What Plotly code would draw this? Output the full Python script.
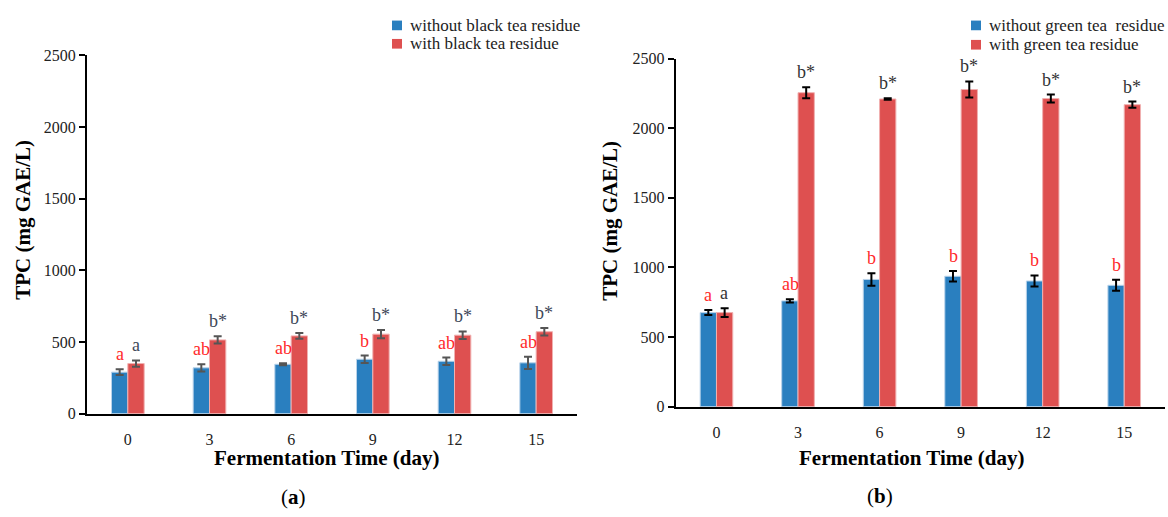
import plotly.graph_objects as go

# Fermentation days (categories)
days = ["0", "3", "6", "9", "12", "15"]

# Panel (a): black tea residue, TPC (mg GAE/L)
black_without = [290, 320, 345, 380, 366, 355]
black_without_err = [20, 25, 7, 26, 26, 43]
black_with = [350, 515, 543, 555, 548, 572]
black_with_err = [22, 25, 20, 29, 26, 26]
black_without_lbl = ["a", "ab", "ab", "b", "ab", "ab"]
black_with_lbl = ["a", "b*", "b*", "b*", "b*", "b*"]

# Panel (b): green tea residue, TPC (mg GAE/L)
green_without = [676, 760, 914, 937, 903, 872]
green_without_err = [18, 12, 45, 38, 40, 39]
green_with = [676, 2255, 2210, 2278, 2213, 2169]
green_with_err = [32, 40, 5, 58, 29, 22]
green_without_lbl = ["a", "ab", "b", "b", "b", "b"]
green_with_lbl = ["a", "b*", "b*", "b*", "b*", "b*"]

y_ticks = [0, 500, 1000, 1500, 2000, 2500]

W, H = 1168, 517
BLUE = "#2A7FBF"
RED = "#DE5050"
LBL_RED = "#FF2A2A"
SERIF = "Liberation Serif, Times New Roman, serif"

fig = go.Figure()


def add_pair(xa, ya, v1, e1, v2, e2, name1, name2, err_color):
    fig.add_trace(go.Bar(
        x=days, y=v1, name=name1, xaxis=xa, yaxis=ya,
        marker=dict(color=BLUE, line=dict(color="#B9D3EA", width=1)),
        error_y=dict(type="data", array=e1, color=err_color, thickness=2, width=4),
    ))
    fig.add_trace(go.Bar(
        x=days, y=v2, name=name2, xaxis=xa, yaxis=ya,
        marker=dict(color=RED, line=dict(color="#F0B0B0", width=1)),
        error_y=dict(type="data", array=e2, color=err_color, thickness=2, width=4),
    ))


add_pair("x", "y", black_without, black_without_err, black_with, black_with_err,
         "without black tea residue", "with black tea residue", "#555555")
add_pair("x2", "y2", green_without, green_without_err, green_with, green_with_err,
         "without green tea  residue", "with green tea residue", "#000000")

annotations = []
shapes = []


def add_letters(xref, yref, vals, errs, lbls, shift, color):
    # category axes take the category index as the annotation position
    for i, (v, e, t) in enumerate(zip(vals, errs, lbls)):
        annotations.append(dict(
            x=i, y=v + e, xref=xref, yref=yref, text=t, showarrow=False,
            xshift=shift, yshift=3, xanchor="center", yanchor="bottom",
            font=dict(family=SERIF, size=18, color=color),
        ))


add_letters("x", "y", black_without, black_without_err, black_without_lbl, -8, LBL_RED)
add_letters("x", "y", black_with, black_with_err, black_with_lbl, 8, "#404858")
add_letters("x2", "y2", green_without, green_without_err, green_without_lbl, -8, LBL_RED)
add_letters("x2", "y2", green_with, green_with_err, green_with_lbl, 8, "#333333")


def px(x, y):
    return x / W, 1 - y / H


# Axis titles and panel tags
title_font = dict(family=SERIF, size=21, color="black")
for text, xp, yp, ang in [
    ("<b>TPC (mg GAE/L)</b>", 23, 219, -90),
    ("<b>TPC (mg GAE/L)</b>", 610, 220, -90),
    ("<b>Fermentation Time (day)</b>", 327, 465, 0),
    ("<b>Fermentation Time (day)</b>", 912, 465, 0),
    ("(<b>a</b>)", 293, 506, 0),
    ("(<b>b</b>)", 880, 505, 0),
]:
    xx, yy = px(xp, yp)
    annotations.append(dict(
        text=text, textangle=ang, xref="paper", yref="paper", x=xx, y=yy,
        xanchor="center", yanchor="middle", showarrow=False, font=title_font,
    ))

# Legend keys: coloured squares with series names beside them
legend_font = dict(family=SERIF, size=17, color="#222222")
for names, sx, tx, rows in [
    (["without black tea residue", "with black tea residue"], 392, 408, [18, 37]),
    (["without green tea&nbsp; residue", "with green tea residue"], 971, 987, [18, 38]),
]:
    for name, color, ry in zip(names, [BLUE, RED], rows):
        x0, y0 = px(sx, ry - 5)
        x1, y1 = px(sx + 10, ry + 5)
        shapes.append(dict(type="rect", xref="paper", yref="paper",
                           x0=x0, x1=x1, y0=y1, y1=y0,
                           fillcolor=color, line=dict(width=0)))
        xx, yy = px(tx, ry)
        annotations.append(dict(
            text=name, xref="paper", yref="paper", x=xx, y=yy,
            xanchor="left", yanchor="middle", showarrow=False, font=legend_font,
        ))

tick_font = dict(family=SERIF, size=16, color="#222222")
xaxis_common = dict(
    type="category", range=[-0.5, 5.5], showline=True, linecolor="black", linewidth=2,
    ticks="", showgrid=False, zeroline=False, tickfont=tick_font, ticklabelstandoff=10,
)
yaxis_common = dict(
    range=[0, 2500], tickvals=y_ticks, showline=True, linecolor="black", linewidth=2,
    ticks="outside", ticklen=6, tickwidth=2, tickcolor="black", showgrid=False,
    zeroline=False, tickfont=tick_font,
)

fig.update_layout(
    width=W, height=H, margin=dict(l=0, r=0, t=0, b=0),
    paper_bgcolor="white", plot_bgcolor="white",
    barmode="group", bargap=0.6, bargroupgap=0,
    xaxis=dict(domain=[87 / W, 577 / W], anchor="y", **xaxis_common),
    yaxis=dict(domain=[1 - 419.5 / H, 1 - 49 / H], anchor="x", **yaxis_common),
    xaxis2=dict(domain=[675.7 / W, 1165 / W], anchor="y2", **xaxis_common),
    yaxis2=dict(domain=[1 - 412.3 / H, 1 - 52.3 / H], anchor="x2", **yaxis_common),
    annotations=annotations,
    shapes=shapes,
    showlegend=False,
)

fig.write_html("out.html")
